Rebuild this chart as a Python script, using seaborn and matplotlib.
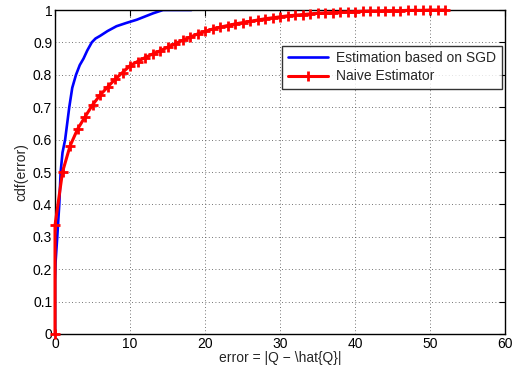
import numpy as np
import pandas as pd
import seaborn as sns
import matplotlib.pyplot as plt

# blue: CDF of the SGD-based estimator error
sgd_err = [0, 0, 0.07, 0.3, 0.57, 0.75, 1.0, 1.35, 1.9, 2.3, 2.8, 3.3, 3.8, 4.3, 4.9,
           5.4, 6.0, 7.0, 8.2, 9.5, 10.9, 12.0, 13.1, 14.4, 18.2]
sgd_cdf = [0, 0.165, 0.22, 0.3, 0.4, 0.5, 0.56, 0.6, 0.7, 0.76, 0.8, 0.83, 0.85, 0.875, 0.9,
           0.912, 0.92, 0.935, 0.95, 0.96, 0.97, 0.98, 0.99, 1.0, 1.0]

# red: CDF of the naive estimator error (integer errors)
naive_err = [0] + list(range(0, 53))
naive_cdf = [0, 0.335, 0.50, 0.58, 0.632, 0.67, 0.707, 0.737, 0.762, 0.786, 0.807,
             0.828, 0.841, 0.853, 0.864, 0.874, 0.885, 0.896, 0.906, 0.916, 0.926,
             0.934, 0.941, 0.947, 0.952, 0.957, 0.961, 0.965, 0.969, 0.973, 0.976,
             0.979, 0.982, 0.984, 0.986, 0.988, 0.99, 0.991, 0.992, 0.993, 0.994,
             0.995, 0.996, 0.997, 0.997, 0.998, 0.998, 0.998, 0.999, 0.999, 0.999,
             1.0, 1.0, 1.0]

sgd_df = pd.DataFrame({'err': sgd_err, 'cdf': sgd_cdf})
naive_df = pd.DataFrame({'err': naive_err, 'cdf': naive_cdf})

sns.set_style("white")
plt.rcParams['font.family'] = ['Liberation Sans', 'DejaVu Sans']

fig = plt.figure(figsize=(5.17, 3.68), dpi=100)
ax = fig.add_axes([0.1064, 0.0924, 0.8704, 0.8804])

sns.lineplot(data=sgd_df, x='err', y='cdf', ax=ax, sort=False, estimator=None,
             color='#0000ff', linewidth=1.9, label='Estimation based on SGD')
sns.lineplot(data=naive_df, x='err', y='cdf', ax=ax, sort=False, estimator=None,
             color='#ff0000', linewidth=2.2, marker='+', markersize=7,
             markeredgewidth=2, markeredgecolor='#ff0000', label='Naive Estimator',
             clip_on=False, zorder=5)

ax.set_xlim(0, 60)
ax.set_ylim(0, 1)
ax.set_xticks(range(0, 61, 10))
ax.set_yticks(np.round(np.arange(0, 1.01, 0.1), 1))
ax.set_yticklabels(['0', '0.1', '0.2', '0.3', '0.4', '0.5', '0.6', '0.7', '0.8', '0.9', '1'])
ax.grid(True, color='#444444', linestyle=(0, (1, 3)), linewidth=0.6)
ax.tick_params(direction='in', top=True, right=True, length=4, width=0.8,
               labelsize=10, colors='black', pad=2)
for sp in ax.spines.values():
    sp.set_color('black')
    sp.set_linewidth(1.0)

ax.set_xlabel('error = |Q \u2212 \\hat{Q}|', fontsize=10, labelpad=0)
ax.set_ylabel('cdf(error)', fontsize=10, labelpad=3)

leg = ax.legend(loc='upper right', bbox_to_anchor=(0.993, 0.89), fontsize=10,
                frameon=True, fancybox=False, borderaxespad=0, handlelength=2.9,
                borderpad=0.4, labelspacing=0.3, handletextpad=0.6)
leg.get_frame().set_edgecolor('black')
leg.get_frame().set_linewidth(1.0)
leg.set_zorder(10)
leg.legend_handles[0].set_marker('')

fig.savefig('out.png', dpi=100)
